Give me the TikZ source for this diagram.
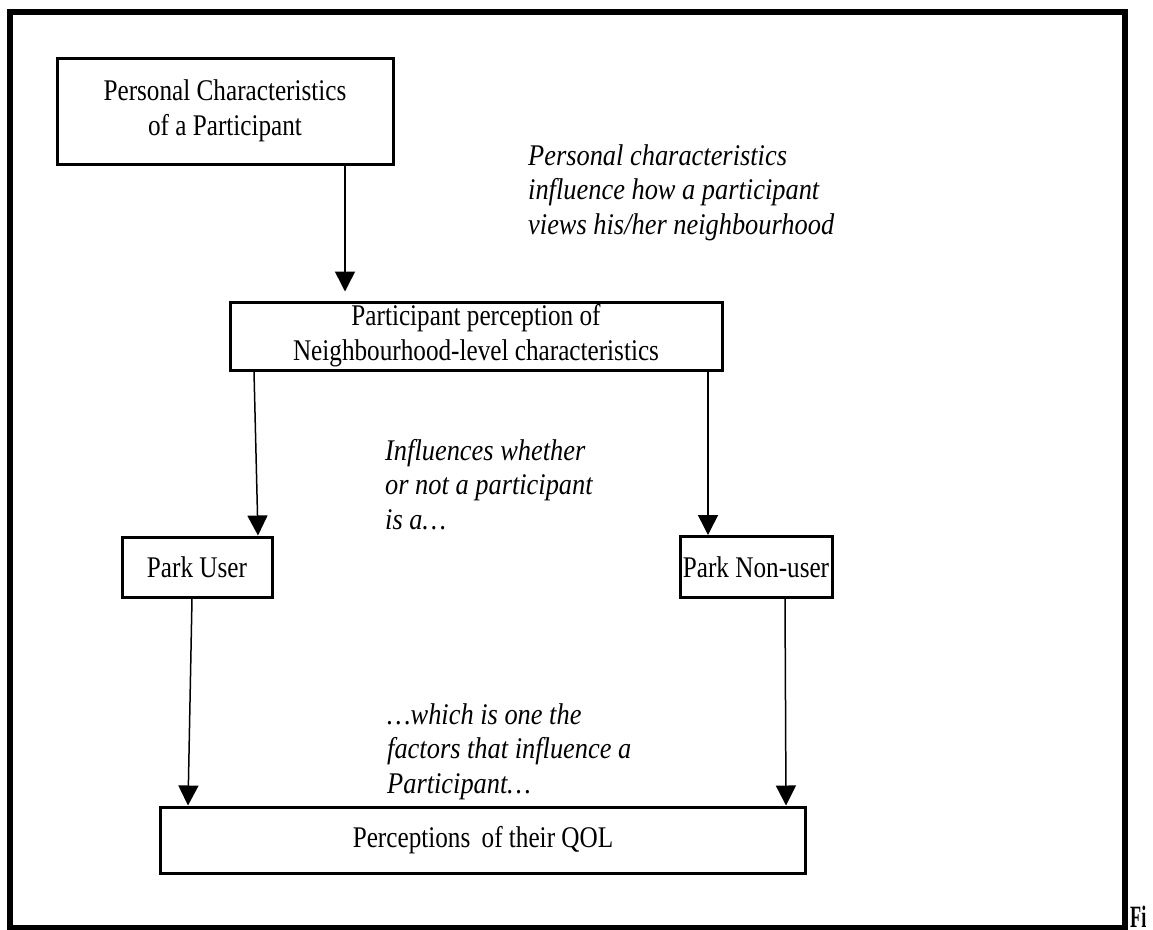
\documentclass[tikz,border=0pt]{standalone}
\usepackage{fontspec}
\usepackage{graphicx}
\setmainfont{Liberation Serif}[FakeStretch=0.84]
\newfontfamily\notefont{Liberation Serif Italic}[FakeStretch=0.88]
\usetikzlibrary{arrows.meta}
\begin{document}
\begin{tikzpicture}[x=1pt,y=-1pt,
  box/.style={draw, line width=3pt, align=center, font=\fontsize{30}{35}\selectfont, inner sep=0pt},
  note/.style={align=left, font=\notefont\fontsize{30}{34.5}\selectfont, inner sep=0pt, anchor=base west},
  arr/.style={line width=1.5pt, -{Triangle[length=20pt,width=20pt]}}]
\useasboundingbox (0,0) rectangle (1153,929);
\draw[line width=6pt] (10,12) rectangle (1125,928);
\node[box, minimum width=336pt, minimum height=106pt] (pc) at (225,111) {Personal Characteristics\\of a Participant};
\node[box, minimum width=492pt, minimum height=68pt] (pp) at (476,336) {Participant perception of\\Neighbourhood-level characteristics};
\node[box, minimum width=150pt, minimum height=60pt] (pu) at (197,567) {Park User};
\node[box, minimum width=152pt, minimum height=61pt] (pn) at (756,567) {Park Non-user};
\node[box, minimum width=645pt, minimum height=66pt] (ql) at (483,840) {Perceptions\ \,of their QOL};
\node[note] (n1) at (528,234) {Personal characteristics\\influence how a participant\\views his/her neighbourhood};
\node[note] (n2) at (385,529) {Influences whether\\or not a participant\\is a…};
\node[note] (n3) at (387,793) {…which is one the\\factors that influence a\\Participant…};
\node[font=\fontsize{31}{31}\selectfont\bfseries, anchor=base west, inner sep=0pt] (fi) at (1130,927) {\scalebox{0.7}[1]{Fi}};
\draw[arr, shorten >=9pt] ([xshift=120pt]pc.south) -- ([xshift=-131pt]pp.north);
\draw[arr] ([xshift=-222pt]pp.south) -- ([xshift=61pt]pu.north);
\draw[arr] ([xshift=232pt]pp.south) -- ([xshift=-48pt]pn.north);
\draw[arr] ([xshift=-5pt]pu.south) -- ([xshift=-295pt]ql.north);
\draw[arr] ([xshift=29pt]pn.south) -- ([xshift=303pt]ql.north);
\end{tikzpicture}
\end{document}
